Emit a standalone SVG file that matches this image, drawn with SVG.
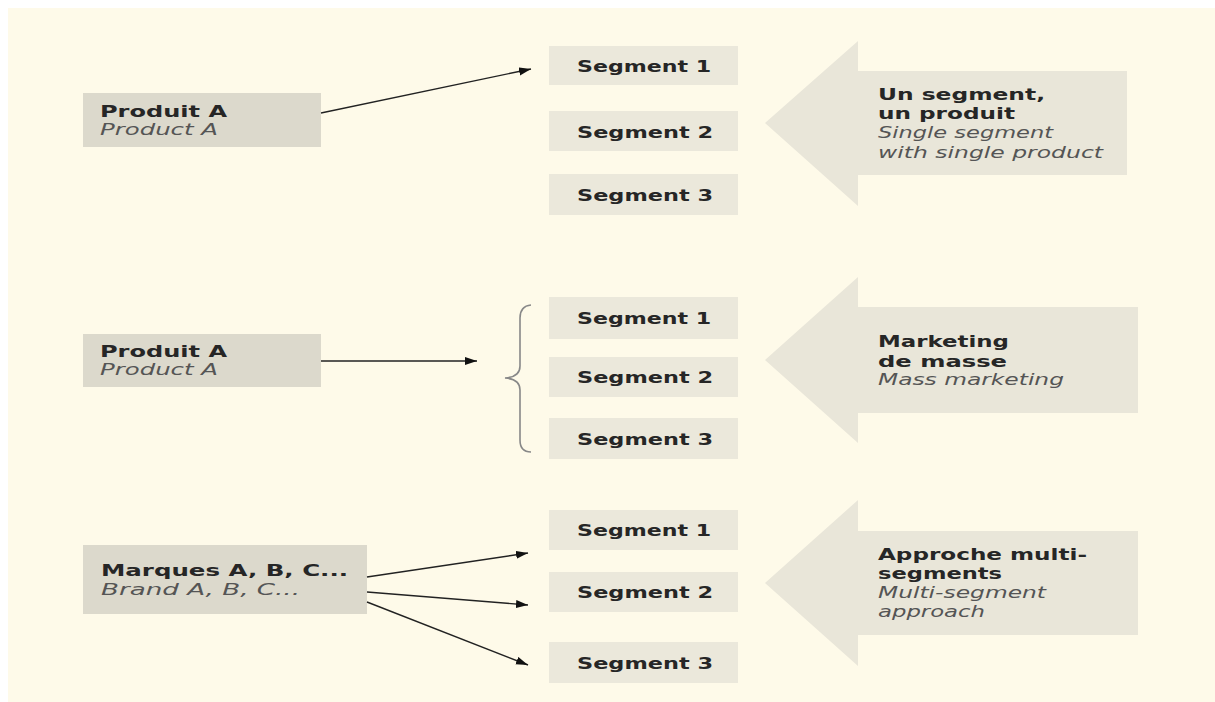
<svg xmlns="http://www.w3.org/2000/svg" width="1215" height="702" viewBox="0 0 1215 702">
  <defs>
    <style>
      .bg { fill: #fefae9; }
      .src { fill: #dcd9cc; }
      .seg { fill: #ebe8db; }
      .big { fill: #e9e6d9; }
      .t { font-family: "DejaVu Sans", "Liberation Sans", sans-serif; font-size: 16px; font-weight: bold; fill: #262626; }
      .i { font-family: "DejaVu Sans", "Liberation Sans", sans-serif; font-size: 16px; font-style: italic; fill: #555; }
      .st { text-anchor: middle; }
      .conn { stroke: #222; stroke-width: 1.4; fill: none; }
      .brace { stroke: #888; stroke-width: 1.6; fill: none; }
    </style>
    <marker id="arrow" markerWidth="13" markerHeight="9" refX="12" refY="4" orient="auto" markerUnits="userSpaceOnUse">
      <path d="M0,0 L12,4 L0,8 z" fill="#111"/>
    </marker>
  </defs>

  <rect class="bg" x="8" y="8" width="1207" height="694"/>

  <!-- Row 1: single segment, single product -->
  <g id="src1">
    <rect class="src" x="83" y="93" width="238" height="54"/>
    <text class="t" x="100" y="117" textLength="127" lengthAdjust="spacingAndGlyphs">Produit A</text>
    <text class="i" x="100" y="135" textLength="118" lengthAdjust="spacingAndGlyphs">Product A</text>
  </g>
  <g id="r1s1"><rect class="seg" x="549" y="46" width="189" height="39"/><text class="t st" x="644" y="72" textLength="134" lengthAdjust="spacingAndGlyphs">Segment 1</text></g>
  <g id="r1s2"><rect class="seg" x="549" y="111" width="189" height="40"/><text class="t st" x="645" y="138" textLength="136" lengthAdjust="spacingAndGlyphs">Segment 2</text></g>
  <g id="r1s3"><rect class="seg" x="549" y="174" width="189" height="41"/><text class="t st" x="645" y="201" textLength="136" lengthAdjust="spacingAndGlyphs">Segment 3</text></g>
  <g id="label1">
    <polygon class="big" points="765,123 858,41 858,71 1127,71 1127,175 858,175 858,206"/>
    <text class="t" x="878" y="100" textLength="167" lengthAdjust="spacingAndGlyphs">Un segment,</text>
    <text class="t" x="878" y="119" textLength="137" lengthAdjust="spacingAndGlyphs">un produit</text>
    <text class="i" x="878" y="138" textLength="175" lengthAdjust="spacingAndGlyphs">Single segment</text>
    <text class="i" x="878" y="158" textLength="225" lengthAdjust="spacingAndGlyphs">with single product</text>
  </g>

  <!-- Row 2: mass marketing -->
  <g id="src2">
    <rect class="src" x="83" y="334" width="238" height="53"/>
    <text class="t" x="100" y="357" textLength="127" lengthAdjust="spacingAndGlyphs">Produit A</text>
    <text class="i" x="100" y="375" textLength="118" lengthAdjust="spacingAndGlyphs">Product A</text>
  </g>
  <g id="r2s1"><rect class="seg" x="549" y="297" width="189" height="42"/><text class="t st" x="644" y="324" textLength="134" lengthAdjust="spacingAndGlyphs">Segment 1</text></g>
  <g id="r2s2"><rect class="seg" x="549" y="357" width="189" height="40"/><text class="t st" x="645" y="383" textLength="136" lengthAdjust="spacingAndGlyphs">Segment 2</text></g>
  <g id="r2s3"><rect class="seg" x="549" y="418" width="189" height="41"/><text class="t st" x="645" y="445" textLength="136" lengthAdjust="spacingAndGlyphs">Segment 3</text></g>
  <g id="label2">
    <polygon class="big" points="765,360 858,277 858,307 1138,307 1138,413 858,413 858,443"/>
    <text class="t" x="878" y="347" textLength="131" lengthAdjust="spacingAndGlyphs">Marketing</text>
    <text class="t" x="878" y="367" textLength="129" lengthAdjust="spacingAndGlyphs">de masse</text>
    <text class="i" x="878" y="385" textLength="186" lengthAdjust="spacingAndGlyphs">Mass marketing</text>
  </g>

  <!-- Row 3: multi-segment approach -->
  <g id="src3">
    <rect class="src" x="83" y="545" width="284" height="69"/>
    <text class="t" x="101" y="576" textLength="247" lengthAdjust="spacingAndGlyphs">Marques A, B, C...</text>
    <text class="i" x="101" y="595" textLength="199" lengthAdjust="spacingAndGlyphs">Brand A, B, C...</text>
  </g>
  <g id="r3s1"><rect class="seg" x="549" y="510" width="189" height="40"/><text class="t st" x="644" y="536" textLength="134" lengthAdjust="spacingAndGlyphs">Segment 1</text></g>
  <g id="r3s2"><rect class="seg" x="549" y="572" width="189" height="40"/><text class="t st" x="645" y="598" textLength="136" lengthAdjust="spacingAndGlyphs">Segment 2</text></g>
  <g id="r3s3"><rect class="seg" x="549" y="642" width="189" height="41"/><text class="t st" x="645" y="669" textLength="136" lengthAdjust="spacingAndGlyphs">Segment 3</text></g>
  <g id="label3">
    <polygon class="big" points="765,583 858,500 858,531 1138,531 1138,635 858,635 858,666"/>
    <text class="t" x="878" y="560" textLength="209" lengthAdjust="spacingAndGlyphs">Approche multi-</text>
    <text class="t" x="878" y="579" textLength="124" lengthAdjust="spacingAndGlyphs">segments</text>
    <text class="i" x="878" y="598" textLength="168" lengthAdjust="spacingAndGlyphs">Multi-segment</text>
    <text class="i" x="878" y="617" textLength="107" lengthAdjust="spacingAndGlyphs">approach</text>
  </g>

  <!-- Connectors -->
  <g id="connectors">
    <line class="conn" x1="321" y1="113" x2="531" y2="69" marker-end="url(#arrow)"/>
    <line class="conn" x1="321" y1="361" x2="477" y2="361" marker-end="url(#arrow)"/>
    <path class="brace" d="M531,305 Q520,306 520,318 L520,366 Q520,377 505,378 Q520,379 520,390 L520,440 Q520,452 531,452"/>
    <line class="conn" x1="367" y1="577" x2="528" y2="553" marker-end="url(#arrow)"/>
    <line class="conn" x1="367" y1="592" x2="528" y2="605" marker-end="url(#arrow)"/>
    <line class="conn" x1="367" y1="602" x2="528" y2="665" marker-end="url(#arrow)"/>
  </g>
</svg>
